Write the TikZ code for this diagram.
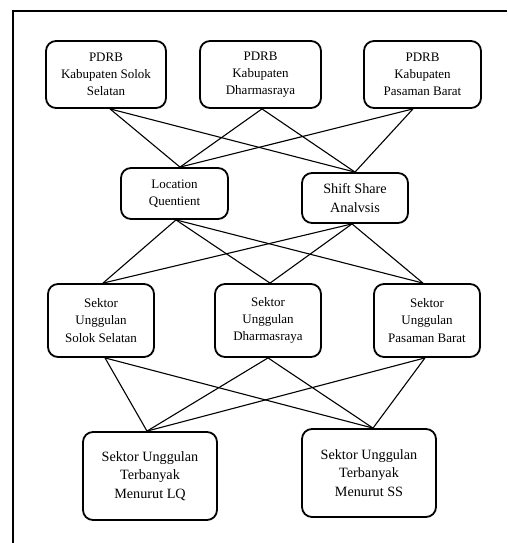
\documentclass[tikz,border=0pt]{standalone}
\usepackage{fontspec}
\setmainfont{Liberation Serif}
\begin{document}
\begin{tikzpicture}[x=1pt,y=-1pt,
  box/.style={draw, line width=1.8pt, rounded corners=10pt, align=center, inner sep=0pt,
     font=\fontsize{13}{17.3}\selectfont},
  boxL/.style={box, font=\fontsize{14.2}{18.3}\selectfont},
  link/.style={line width=1.1pt}]
\useasboundingbox (0,0) rectangle (507,543);
\draw[line width=2pt] (13,543) -- (13,11) -- (507,11);
% top row
\node[box, minimum width=120pt, minimum height=67pt] (t1) at (106,74.5) {PDRB\\Kabupaten Solok\\Selatan};
\node[box, minimum width=121pt, minimum height=67pt] (t2) at (260.5,74.5) {PDRB\\Kabupaten\\Dharmasraya};
\node[box, minimum width=117pt, minimum height=67pt] (t3) at (422.5,74.5) {PDRB\\Kabupaten\\Pasaman Barat};
% middle row
\node[box, minimum width=107pt, minimum height=51pt] (lq) at (174.5,193.5) {Location\\Quentient};
\node[boxL, minimum width=106pt, minimum height=50pt] (ss) at (355,198) {Shift Share\\Analvsis};
% third row
\node[box, minimum width=106pt, minimum height=73pt] (s1) at (101,320.5) {Sektor\\Unggulan\\Solok Selatan};
\node[box, minimum width=106pt, minimum height=73pt] (s2) at (268,320.5) {Sektor\\Unggulan\\Dharmasraya};
\node[box, minimum width=106pt, minimum height=73pt] (s3) at (427,320.5) {Sektor\\Unggulan\\Pasaman Barat};
% bottom row
\node[boxL, minimum width=134pt, minimum height=88pt] (b1) at (150,476) {Sektor Unggulan\\Terbanyak\\Menurut LQ};
\node[boxL, minimum width=134pt, minimum height=88pt] (b2) at (369,473) {Sektor Unggulan\\Terbanyak\\Menurut SS};
% connectors top -> middle
\draw[link] ([xshift=4pt]t1.south) -- ([xshift=5.5pt]lq.north);
\draw[link] ([xshift=4pt]t1.south) -- (ss.north);
\draw[link] ([xshift=1.5pt]t2.south) -- ([xshift=5.5pt]lq.north);
\draw[link] ([xshift=1.5pt]t2.south) -- (ss.north);
\draw[link] ([xshift=-9.5pt]t3.south) -- ([xshift=5.5pt]lq.north);
\draw[link] ([xshift=-9.5pt]t3.south) -- (ss.north);
% middle -> third
\draw[link] ([xshift=1.5pt]lq.south) -- ([xshift=2pt]s1.north);
\draw[link] ([xshift=1.5pt]lq.south) -- ([xshift=2pt]s2.north);
\draw[link] ([xshift=1.5pt]lq.south) -- ([xshift=-4pt]s3.north);
\draw[link] ([xshift=-3pt]ss.south) -- ([xshift=2pt]s1.north);
\draw[link] ([xshift=-3pt]ss.south) -- ([xshift=2pt]s2.north);
\draw[link] ([xshift=-3pt]ss.south) -- ([xshift=-4pt]s3.north);
% third -> bottom
\draw[link] ([xshift=4pt]s1.south) -- ([xshift=-3pt]b1.north);
\draw[link] ([xshift=4pt]s1.south) -- ([xshift=4pt]b2.north);
\draw[link] (s2.south) -- ([xshift=-3pt]b1.north);
\draw[link] (s2.south) -- ([xshift=4pt]b2.north);
\draw[link] ([xshift=-2pt]s3.south) -- ([xshift=-3pt]b1.north);
\draw[link] ([xshift=-2pt]s3.south) -- ([xshift=4pt]b2.north);
\end{tikzpicture}
\end{document}
